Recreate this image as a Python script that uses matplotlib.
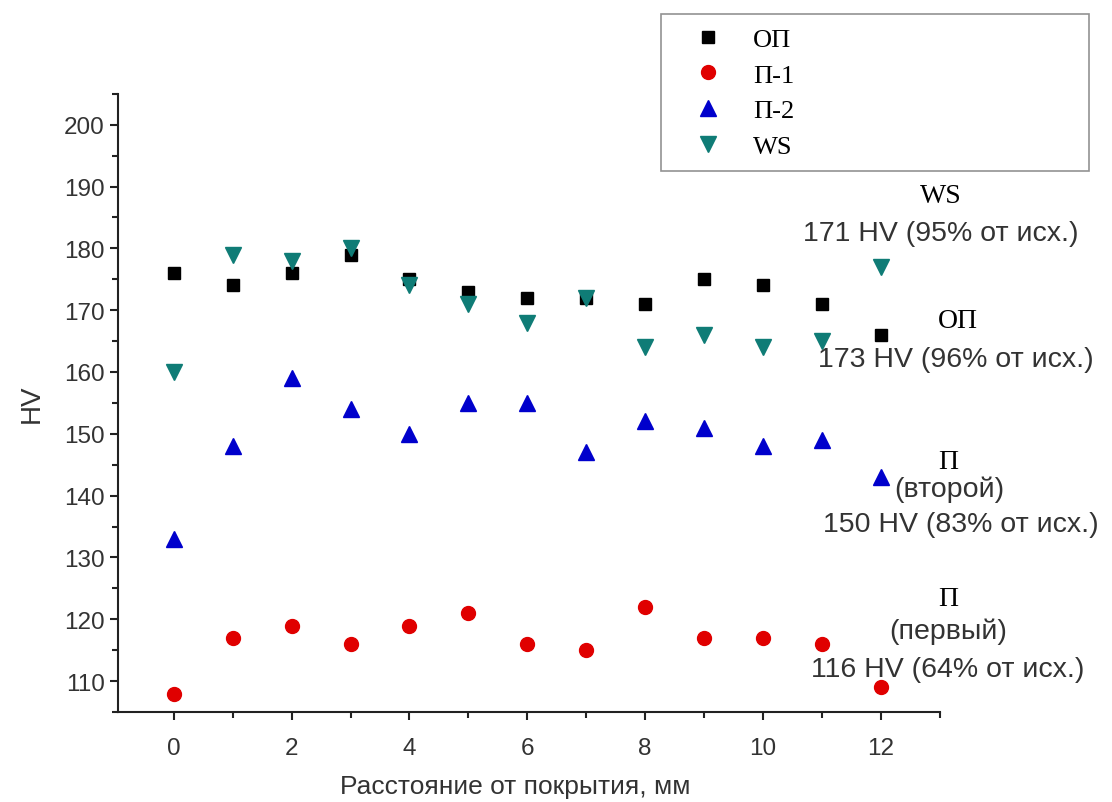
import matplotlib
matplotlib.use("Agg")
import matplotlib.pyplot as plt
from matplotlib.ticker import MultipleLocator

# расстояние от покрытия, мм
dist = [0, 1, 2, 3, 4, 5, 6, 7, 8, 9, 10, 11, 12]
hv_op = [176, 174, 176, 179, 175, 173, 172, 172, 171, 175, 174, 171, 166]
hv_p1 = [108, 117, 119, 116, 119, 121, 116, 115, 122, 117, 117, 116, 109]
hv_p2 = [133, 148, 159, 154, 150, 155, 155, 147, 152, 151, 148, 149, 143]
hv_ws = [160, 179, 178, 180, 174, 171, 168, 172, 164, 166, 164, 165, 177]

series_names = ["ОП", "П-1", "П-2", "WS"]

sans = "Liberation Sans"
serif = "Liberation Serif"
gray = "#333333"

fig = plt.figure(figsize=(11.12, 8.03), dpi=100)
ax = fig.add_axes([0.106, 0.112, 0.739, 0.770])

ax.plot(dist, hv_op, ls="none", marker="s", ms=9, color="black", label=series_names[0])
ax.plot(dist, hv_p1, ls="none", marker="o", ms=10, color="#e00000", label=series_names[1])
ax.plot(dist, hv_p2, ls="none", marker="^", ms=11, color="#0000cc", label=series_names[2])
ax.plot(dist, hv_ws, ls="none", marker="v", ms=11, color="#0f7c76", label=series_names[3])

ax.set_xlim(-0.95, 13)
ax.set_ylim(105, 205)
ax.xaxis.set_major_locator(MultipleLocator(2))
ax.xaxis.set_minor_locator(MultipleLocator(1))
ax.yaxis.set_major_locator(MultipleLocator(10))
ax.yaxis.set_minor_locator(MultipleLocator(5))
ax.set_yticks([110, 120, 130, 140, 150, 160, 170, 180, 190, 200])
ax.spines["top"].set_visible(False)
ax.spines["right"].set_visible(False)
for s in ["left", "bottom"]:
    ax.spines[s].set_linewidth(1.5)
    ax.spines[s].set_color("#222222")
ax.tick_params(which="major", length=6, width=1.5, color="#222222", labelsize=17.5, labelcolor=gray)
ax.tick_params(axis="x", which="major", pad=12)
ax.tick_params(which="minor", length=4, width=1.5, color="#222222")
for lab in ax.get_xticklabels() + ax.get_yticklabels():
    lab.set_family(sans)

ax.set_xlabel("Расстояние от покрытия, мм", fontsize=19, family=sans, color=gray)
ax.xaxis.set_label_coords(0.483, -0.1)
ax.set_ylabel("HV", fontsize=20, family=sans, color=gray, labelpad=14)

leg = fig.legend(loc="upper left", bbox_to_anchor=(0.594, 0.791, 0.385, 0.19), mode="expand",
                 borderaxespad=0, frameon=True, fancybox=False, edgecolor="#777777",
                 prop={"family": serif, "size": 19},
                 handletextpad=0.4, labelspacing=0.46, borderpad=0.5, handlelength=2.6)
leg.get_frame().set_linewidth(1.2)

# подписи справа
notes = [
    ("WS", 13.02, 188.5, serif),
    ("171 HV (95% от исх.)", 13.02, 182.4, sans),
    ("ОП", 13.31, 168.3, serif),
    ("173 HV (96% от исх.)", 13.28, 162.1, sans),
    ("П", 13.14, 145.6, serif),
    ("(второй)", 13.16, 141.1, sans),
    ("150 HV (83% от исх.)", 13.36, 135.4, sans),
    ("П", 13.14, 123.3, serif),
    ("(первый)", 13.14, 118.1, sans),
    ("116 HV (64% от исх.)", 13.14, 112.0, sans),
]
for txt, nx, ny, fam in notes:
    ax.text(nx, ny, txt, ha="center", va="center", fontsize=20.5 if fam == sans else 20,
            family=fam, color=gray if fam == sans else "black", clip_on=False)

fig.savefig("out.png", dpi=100)
